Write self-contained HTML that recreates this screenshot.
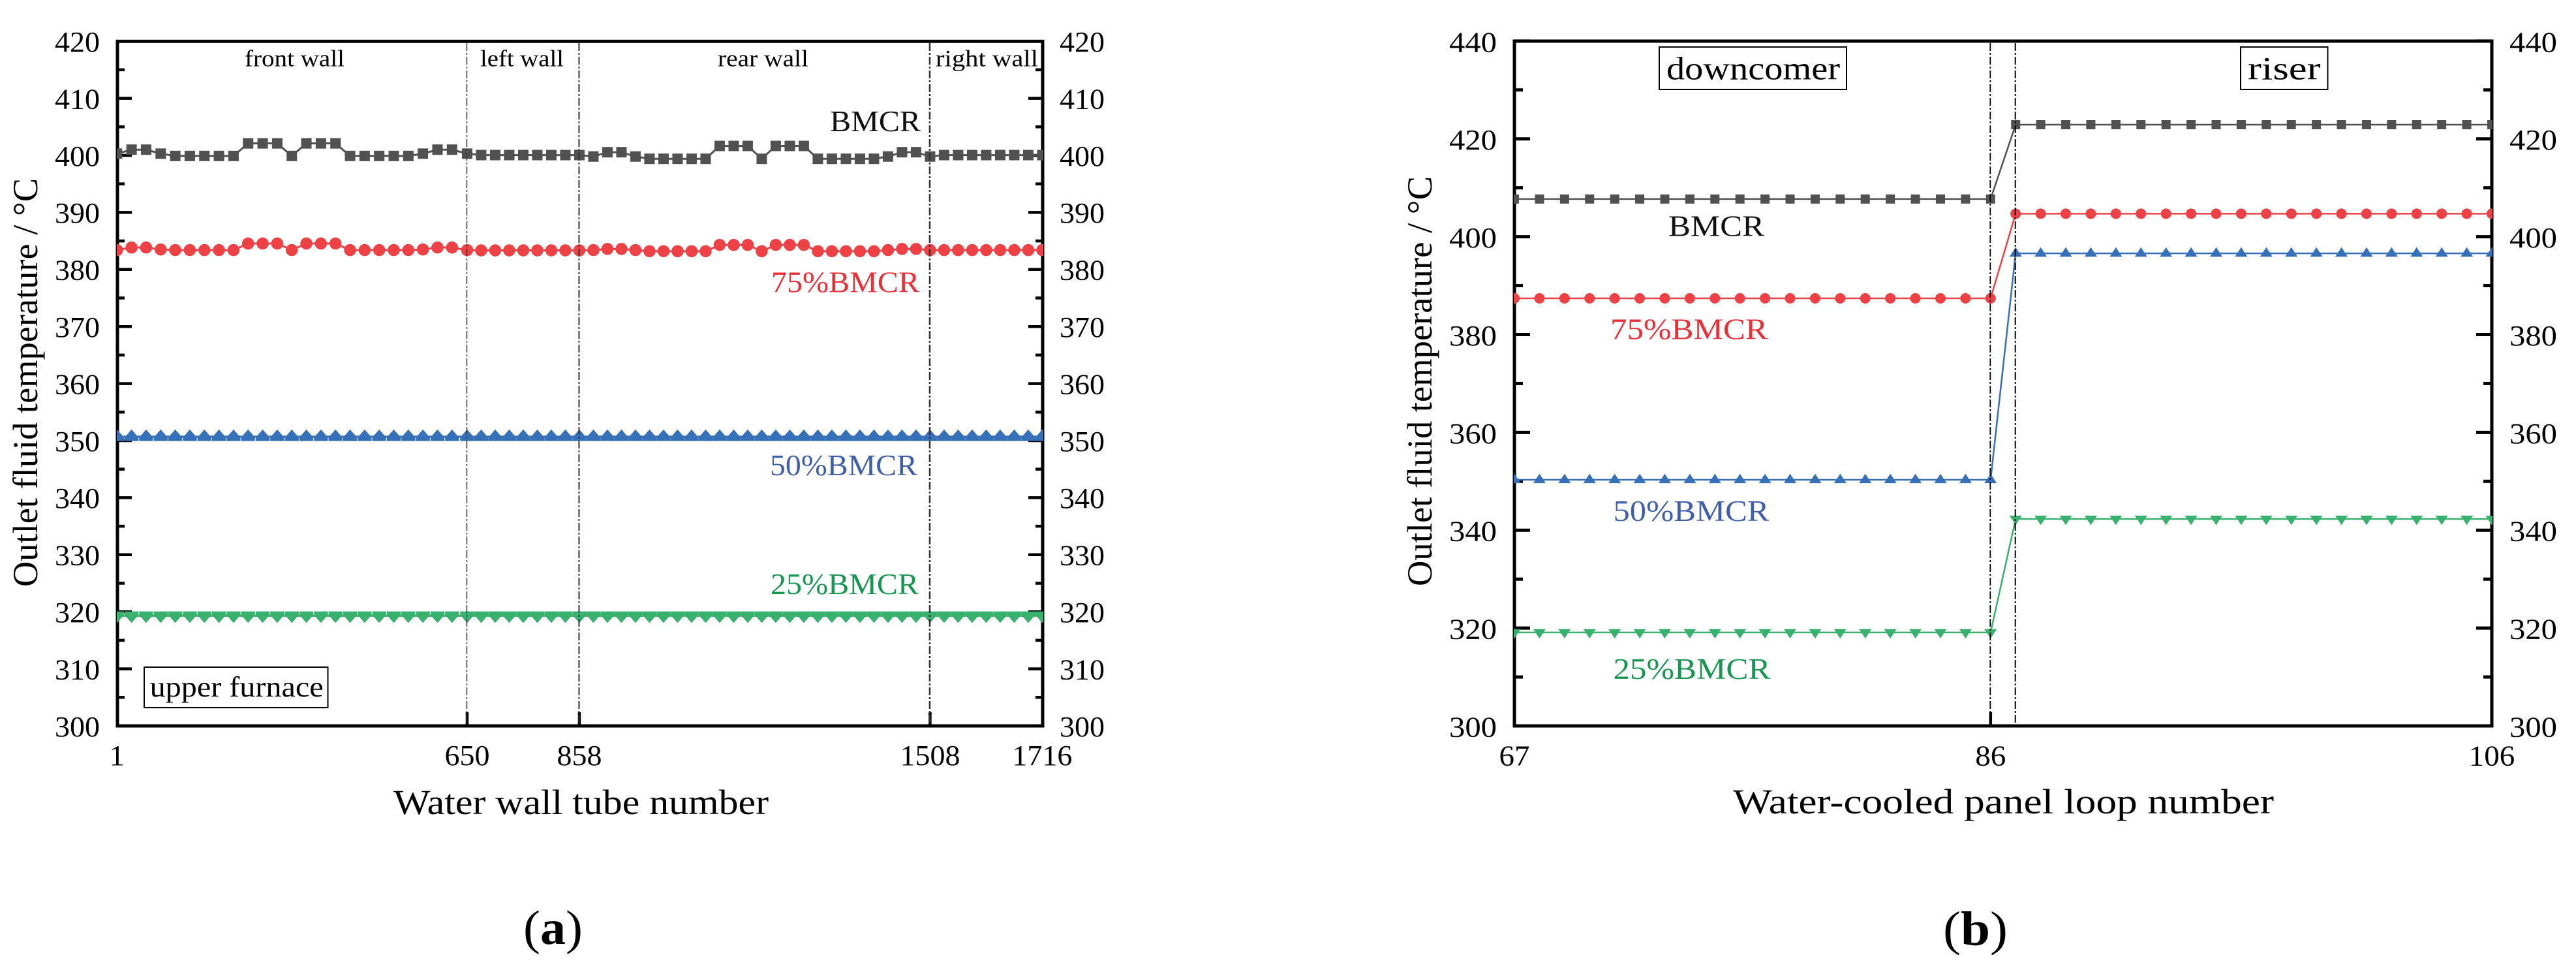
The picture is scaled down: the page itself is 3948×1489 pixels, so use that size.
<!DOCTYPE html>
<html lang="en">
<head>
<meta charset="utf-8">
<title>Outlet fluid temperature charts</title>
<style>
html,body{margin:0;padding:0;background:#fff;}
svg{display:block;}
text{font-family:"Liberation Serif","Times New Roman",serif;fill:#000;}
</style>
</head>
<body>
<svg id="figure" xmlns="http://www.w3.org/2000/svg" width="3948" height="1489" viewBox="0 0 3948 1489">
  <defs>
    <clipPath id="clip-a"><rect x="179" y="63" width="1420" height="1050"/></clipPath>
    <clipPath id="clip-b"><rect x="2320" y="63" width="1500" height="1050"/></clipPath>
  </defs>
  <rect x="0" y="0" width="3948" height="1489" fill="#fff"/>
  <g id="chart-a"></g>
  <g id="chart-b"></g>

  <!-- Chart (a) text -->
  <text transform="translate(57,899) rotate(-90)" font-size="54" textLength="626" lengthAdjust="spacingAndGlyphs">Outlet fluid temperature / °C</text>
  <text x="603" y="1247" font-size="54" textLength="575" lengthAdjust="spacingAndGlyphs">Water wall tube number</text>
  <text x="375" y="101.7" font-size="36" textLength="153" lengthAdjust="spacingAndGlyphs">front wall</text>
  <text x="736" y="101.7" font-size="36" textLength="128" lengthAdjust="spacingAndGlyphs">left wall</text>
  <text x="1100" y="101.7" font-size="36" textLength="139" lengthAdjust="spacingAndGlyphs">rear wall</text>
  <text x="1434" y="101.7" font-size="36" textLength="157" lengthAdjust="spacingAndGlyphs">right wall</text>
  <text x="1272" y="201" font-size="46" textLength="139" lengthAdjust="spacingAndGlyphs" style="fill:#111">BMCR</text>
  <text x="1182" y="447.7" font-size="46" textLength="227" lengthAdjust="spacingAndGlyphs" style="fill:#ee2e36">75%BMCR</text>
  <text x="1180" y="728" font-size="46" textLength="226" lengthAdjust="spacingAndGlyphs" style="fill:#3f5fad">50%BMCR</text>
  <text x="1181" y="910" font-size="46" textLength="227" lengthAdjust="spacingAndGlyphs" style="fill:#16964f">25%BMCR</text>
  <rect x="221" y="1022" width="281.5" height="62" fill="none" stroke="#000" stroke-width="2"/>
  <text x="229.6" y="1067" font-size="44" textLength="266" lengthAdjust="spacingAndGlyphs">upper furnace</text>
  <text x="802" y="1446" font-size="74" textLength="91" lengthAdjust="spacingAndGlyphs">(<tspan font-weight="bold">a</tspan>)</text>

  <!-- Chart (b) text -->
  <text transform="translate(2194,898) rotate(-90)" font-size="54" textLength="628" lengthAdjust="spacingAndGlyphs">Outlet fluid temperature / °C</text>
  <text x="2656" y="1246" font-size="54" textLength="829" lengthAdjust="spacingAndGlyphs">Water-cooled panel loop number</text>
  <rect x="2543" y="72" width="287" height="65" fill="none" stroke="#000" stroke-width="2"/>
  <text x="2554" y="121.7" font-size="50" textLength="266" lengthAdjust="spacingAndGlyphs">downcomer</text>
  <rect x="3434" y="72" width="133.5" height="65" fill="none" stroke="#000" stroke-width="2"/>
  <text x="3445" y="121.7" font-size="50" textLength="111.5" lengthAdjust="spacingAndGlyphs">riser</text>
  <text x="2557" y="361.6" font-size="46" textLength="147" lengthAdjust="spacingAndGlyphs" style="fill:#111">BMCR</text>
  <text x="2468" y="519.7" font-size="45" textLength="241" lengthAdjust="spacingAndGlyphs" style="fill:#ee2e36">75%BMCR</text>
  <text x="2472.5" y="797.8" font-size="45" textLength="239" lengthAdjust="spacingAndGlyphs" style="fill:#3f5fad">50%BMCR</text>
  <text x="2472.5" y="1040" font-size="45" textLength="241" lengthAdjust="spacingAndGlyphs" style="fill:#16964f">25%BMCR</text>
  <text x="2978" y="1447.5" font-size="74" textLength="99" lengthAdjust="spacingAndGlyphs">(<tspan font-weight="bold">b</tspan>)</text>
</svg>

<script>
// ---------- Chart (a) data ----------
const tubeNumbers = [1,28,55,82,109,136,163,190,217,244,271,298,325,352,379,406,433,460,487,514,541,568,595,622,650,
  676,702,728,754,780,806,832,858,
  884,910,936,962,988,1014,1040,1066,1092,1118,1144,1170,1196,1222,1248,1274,1300,1326,1352,1378,1404,1430,1456,1482,1508,
  1534,1560,1586,1612,1638,1664,1690,1716];
const bmcrA = [400.3,401,401,400.3,399.9,399.9,399.9,399.9,399.9,402.1,402.1,402.1,399.9,402.1,402.1,402.1,399.9,399.9,399.9,399.9,399.9,400.3,401,401,400.3,
  400.05,400.05,400.05,400.05,400.05,400.05,400.05,400.05,
  399.8,400.55,400.55,399.8,399.4,399.4,399.4,399.4,399.4,401.65,401.65,401.65,399.4,401.65,401.65,401.65,399.4,399.4,399.4,399.4,399.4,399.8,400.55,400.55,399.8,
  400.05,400.05,400.05,400.05,400.05,400.05,400.05,400.05];
const pct75A = [383.4,383.85,383.85,383.5,383.4,383.4,383.4,383.4,383.4,384.55,384.55,384.55,383.4,384.55,384.55,384.55,383.4,383.4,383.4,383.4,383.4,383.5,383.85,383.85,383.4,
  383.35,383.35,383.35,383.35,383.35,383.35,383.35,383.35,
  383.4,383.6,383.6,383.4,383.2,383.2,383.2,383.2,383.2,384.3,384.3,384.3,383.2,384.3,384.3,384.3,383.2,383.2,383.2,383.2,383.2,383.4,383.6,383.6,383.4,
  383.4,383.4,383.4,383.4,383.4,383.4,383.4,383.4];
const pct50A = [350.7,350.7,350.7,350.7,350.7,350.7,350.7,350.7,350.7,350.7,350.7,350.7,350.7,350.7,350.7,350.7,350.7,350.7,350.7,350.7,350.7,350.7,350.7,350.7,350.7,
  350.7,350.7,350.7,350.7,350.7,350.7,350.7,350.7,
  350.7,350.7,350.7,350.7,350.7,350.7,350.7,350.7,350.7,350.7,350.7,350.7,350.7,350.7,350.7,350.7,350.7,350.7,350.7,350.7,350.7,350.7,350.7,350.7,350.7,
  350.7,350.7,350.7,350.7,350.7,350.7,350.7,350.7];
const pct25A = [319.3,319.3,319.3,319.3,319.3,319.3,319.3,319.3,319.3,319.3,319.3,319.3,319.3,319.3,319.3,319.3,319.3,319.3,319.3,319.3,319.3,319.3,319.3,319.3,319.3,
  319.3,319.3,319.3,319.3,319.3,319.3,319.3,319.3,
  319.3,319.3,319.3,319.3,319.3,319.3,319.3,319.3,319.3,319.3,319.3,319.3,319.3,319.3,319.3,319.3,319.3,319.3,319.3,319.3,319.3,319.3,319.3,319.3,319.3,
  319.3,319.3,319.3,319.3,319.3,319.3,319.3,319.3];
const yMajorA = [300,310,320,330,340,350,360,370,380,390,400,410,420];
const yMinorA = [305,315,325,335,345,355,365,375,385,395,405,415];
const xTicksA = [1,650,858,1508,1716];
const xInnerTicksA = [650,858,1508];
const wallBoundariesA = [650,858,1508];

// ---------- Chart (b) data ----------
const loopNumbers = [67,68,69,70,71,72,73,74,75,76,77,78,79,80,81,82,83,84,85,86,87,88,89,90,91,92,93,94,95,96,97,98,99,100,101,102,103,104,105,106];
const bmcrB = [407.7,407.7,407.7,407.7,407.7,407.7,407.7,407.7,407.7,407.7,407.7,407.7,407.7,407.7,407.7,407.7,407.7,407.7,407.7,407.7,
  422.9,422.9,422.9,422.9,422.9,422.9,422.9,422.9,422.9,422.9,422.9,422.9,422.9,422.9,422.9,422.9,422.9,422.9,422.9,422.9];
const pct75B = [387.4,387.4,387.4,387.4,387.4,387.4,387.4,387.4,387.4,387.4,387.4,387.4,387.4,387.4,387.4,387.4,387.4,387.4,387.4,387.4,
  404.7,404.7,404.7,404.7,404.7,404.7,404.7,404.7,404.7,404.7,404.7,404.7,404.7,404.7,404.7,404.7,404.7,404.7,404.7,404.7];
const pct50B = [350.3,350.3,350.3,350.3,350.3,350.3,350.3,350.3,350.3,350.3,350.3,350.3,350.3,350.3,350.3,350.3,350.3,350.3,350.3,350.3,
  396.6,396.6,396.6,396.6,396.6,396.6,396.6,396.6,396.6,396.6,396.6,396.6,396.6,396.6,396.6,396.6,396.6,396.6,396.6,396.6];
const pct25B = [319.1,319.1,319.1,319.1,319.1,319.1,319.1,319.1,319.1,319.1,319.1,319.1,319.1,319.1,319.1,319.1,319.1,319.1,319.1,319.1,
  342.3,342.3,342.3,342.3,342.3,342.3,342.3,342.3,342.3,342.3,342.3,342.3,342.3,342.3,342.3,342.3,342.3,342.3,342.3,342.3];
const yMajorB = [300,320,340,360,380,400,420,440];
const yMinorB = [310,330,350,370,390,410,430];
const xTicksB = [67,86,106];
const xInnerTicksB = [86];
const riserBoundariesB = [86,87];

const SVG_NS = 'http://www.w3.org/2000/svg';
function make(tag, parent) {
  const el = document.createElementNS(SVG_NS, tag);
  parent.appendChild(el);
  return el;
}

// Axis functions
function xA(v) { return 179.3 + (v - 1) * 0.8269; }
function yA(v) { return 1112 - (v - 300) * 8.74; }
function xB(v) { return 2321 + (v - 67) * 38.41; }
function yB(v) { return 1112 - (v - 300) * 7.494; }

function drawFrame(parent, left, right, top, bottom) {
  const frame = make('rect', parent);
  
  
  frame.setAttribute('x', left);
  frame.setAttribute('y', top);
  frame.setAttribute('width', right - left);
  frame.setAttribute('height', bottom - top);
  frame.setAttribute('fill', 'none');
  frame.setAttribute('stroke', '#000');
  frame.setAttribute('stroke-width', 5);
}

function drawYTicks(parent, values, yFn, left, right, len, width) {
  values.forEach(function (v) {
    [[left, left + len], [right, right - len]].forEach(function (pair) {
      const tick = make('line', parent);
      
      
      tick.setAttribute('x1', pair[0]);
      tick.setAttribute('x2', pair[1]);
      tick.setAttribute('y1', yFn(v));
      tick.setAttribute('y2', yFn(v));
      tick.setAttribute('stroke', '#000');
      tick.setAttribute('stroke-width', width);
    });
  });
}

function drawYLabels(parent, values, yFn, leftX, rightX, width, dy) {
  values.forEach(function (v) {
    [leftX, rightX].forEach(function (x) {
      const label = make('text', parent);
      
      
      label.setAttribute('x', x);
      label.setAttribute('y', yFn(v) + dy);
      label.setAttribute('font-size', 44.5);
      label.setAttribute('textLength', width);
      label.setAttribute('lengthAdjust', 'spacingAndGlyphs');
      label.textContent = String(v);
    });
  });
}

function drawXLabels(parent, values, xFn, y, digitWidth) {
  values.forEach(function (v) {
    const s = String(v);
    const w = s.length * digitWidth;
    const label = make('text', parent);
    
    
    label.setAttribute('x', xFn(v) - w / 2);
    label.setAttribute('y', y);
    label.setAttribute('font-size', 44);
    label.setAttribute('textLength', w);
    label.setAttribute('lengthAdjust', 'spacingAndGlyphs');
    label.textContent = s;
  });
}

function drawXTicks(parent, values, xFn, bottom, len) {
  values.forEach(function (v) {
    const tick = make('line', parent);
    
    
    tick.setAttribute('x1', xFn(v));
    tick.setAttribute('x2', xFn(v));
    tick.setAttribute('y1', bottom);
    tick.setAttribute('y2', bottom - len);
    tick.setAttribute('stroke', '#000');
    tick.setAttribute('stroke-width', 4.5);
  });
}

function drawMarker(parent, shape, cx, cy, size, color) {
  let m;
  const hw = size / 2;
  if (shape === 'square') {
    m = make('rect', parent);
    m.setAttribute('x', cx - hw);
    m.setAttribute('y', cy - hw);
    m.setAttribute('width', size);
    m.setAttribute('height', size);
  } else if (shape === 'circle') {
    m = make('circle', parent);
    m.setAttribute('cx', cx);
    m.setAttribute('cy', cy);
    m.setAttribute('r', hw);
  } else if (shape === 'up' || shape === 'down') {
    const dir = shape === 'up' ? 1 : -1;
    const apex = cy - dir * size * 0.49;
    const base = cy + dir * size * 0.27;
    m = make('polygon', parent);
    m.setAttribute('points', (cx - hw) + ',' + base + ' ' + (cx + hw) + ',' + base + ' ' + cx + ',' + apex);
  } else {
    // "house" triangle of the dense panel: tall apex, blocky lower band
    const dir = shape === 'house-up' ? 1 : -1;
    const apex = cy - dir * 11;
    const shoulder = cy + dir * 1.2;
    const base = cy + dir * 6.7;
    m = make('polygon', parent);
    m.setAttribute('points', (cx - hw) + ',' + base + ' ' + (cx + hw) + ',' + base + ' ' + (cx + hw) + ',' + shoulder + ' ' + cx + ',' + apex + ' ' + (cx - hw) + ',' + shoulder);
  }
  
  
  m.setAttribute('fill', color);
}

function drawSeries(parent, name, xs, values, xFn, yFn, shape, size, color, lineWidth) {
  const group = make('g', parent);
  
  
  const line = make('polyline', group);
  
  
  line.setAttribute('points', xs.map(function (x, i) { return xFn(x) + ',' + yFn(values[i]); }).join(' '));
  line.setAttribute('fill', 'none');
  line.setAttribute('stroke', color);
  line.setAttribute('stroke-width', lineWidth);
  xs.forEach(function (x, i) {
    drawMarker(group, shape, xFn(x), yFn(values[i]), size, color);
  });
}

function drawBoundaries(parent, values, xFn, top, bottom, color, widths) {
  values.forEach(function (v, i) {
    const line = make('line', parent);
    
    
    line.setAttribute('x1', xFn(v) - 0.5);
    line.setAttribute('x2', xFn(v) - 0.5);
    line.setAttribute('y1', top);
    line.setAttribute('y2', bottom);
    line.setAttribute('stroke', color);
    line.setAttribute('stroke-width', widths[i]);
    line.setAttribute('stroke-dasharray', '12 3 3 3');
  });
}

// ---------- Render chart (a) ----------
const chartA = document.getElementById('chart-a');
drawYTicks(chartA, yMinorA, yA, 180, 1598, 11, 4.5);
drawYTicks(chartA, yMajorA, yA, 180, 1598, 22, 4.5);
drawXTicks(chartA, xInnerTicksA, xA, 1112, 21);
drawFrame(chartA, 180, 1598, 63.3, 1112);
const plotA = make('g', chartA);


plotA.setAttribute('clip-path', 'url(#clip-a)');
drawSeries(plotA, 'series-bmcr-a', tubeNumbers, bmcrA, xA, yA, 'square', 16, '#515151', 3);
drawSeries(plotA, 'series-75-bmcr-a', tubeNumbers, pct75A, xA, yA, 'circle', 18.5, '#ee4145', 3);
drawSeries(plotA, 'series-50-bmcr-a', tubeNumbers, pct50A, xA, yA, 'house-up', 21.3, '#3670b8', 3);
drawSeries(plotA, 'series-25-bmcr-a', tubeNumbers, pct25A, xA, yA, 'house-down', 21.3, '#38b06e', 3);
drawBoundaries(chartA, wallBoundariesA, xA, 66, 1110, '#333', [1.5, 2, 2.5]);
drawYLabels(chartA, yMajorA, yA, 84, 1624, 69, 15.8);
drawXLabels(chartA, xTicksA, xA, 1172, 23);

// ---------- Render chart (b) ----------
const chartB = document.getElementById('chart-b');
drawYTicks(chartB, yMinorB, yB, 2321, 3819, 13, 5);
drawYTicks(chartB, yMajorB, yB, 2321, 3819, 24, 5);
drawXTicks(chartB, xInnerTicksB, xB, 1112, 21);
drawFrame(chartB, 2321, 3819, 63, 1112);
const plotB = make('g', chartB);


plotB.setAttribute('clip-path', 'url(#clip-b)');
drawSeries(plotB, 'series-bmcr-b', loopNumbers, bmcrB, xB, yB, 'square', 14, '#515151', 2.5);
drawSeries(plotB, 'series-75-bmcr-b', loopNumbers, pct75B, xB, yB, 'circle', 16, '#ee4145', 2.5);
drawSeries(plotB, 'series-50-bmcr-b', loopNumbers, pct50B, xB, yB, 'up', 19, '#3670b8', 2.5);
drawSeries(plotB, 'series-25-bmcr-b', loopNumbers, pct25B, xB, yB, 'down', 19, '#38b06e', 2.5);
drawBoundaries(chartB, riserBoundariesB, xB, 66, 1110, '#000', [1.8, 2]);
drawYLabels(chartB, yMajorB, yB, 2221, 3846, 73, 16.5);
drawXLabels(chartB, xTicksB, xB, 1172.5, 23.5);
</script>
</body>
</html>
